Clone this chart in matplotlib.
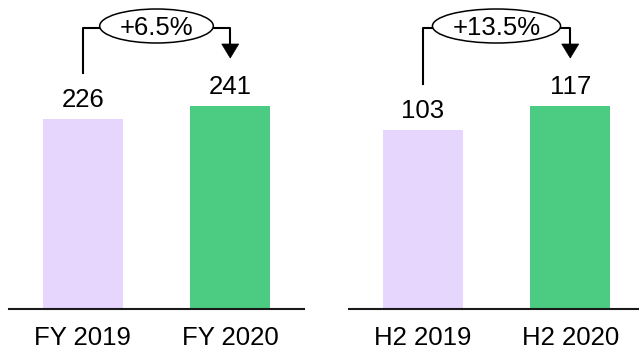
import matplotlib
matplotlib.use("Agg")
import matplotlib.pyplot as plt
from matplotlib.lines import Line2D
from matplotlib.patches import Ellipse, Polygon
from matplotlib.transforms import IdentityTransform

plt.rcParams["font.family"] = ["Liberation Sans", "DejaVu Sans"]

# full year and second half figures
fy_labels = ["FY 2019", "FY 2020"]
fy_values = [226, 241]
fy_change = "+6.5%"

h2_labels = ["H2 2019", "H2 2020"]
h2_values = [103, 117]
h2_change = "+13.5%"

colors = ["#E6D5FD", "#4BCC82"]

W, H = 639, 349
fig = plt.figure(figsize=(W / 100, H / 100), dpi=100)
renderer = fig.canvas.get_renderer()
px = IdentityTransform()


def bar_panel(left, labels, values):
    ax = fig.add_axes([left / W, 40 / H, 295 / W, 309 / H])
    ax.bar([0, 1], values, width=0.54, color=colors)
    ax.set_xlim(-0.5, 1.5)
    # tallest bar takes the same height in both panels
    ax.set_ylim(0, max(values) * 309 / 203)
    for side in ["top", "right", "left"]:
        ax.spines[side].set_visible(False)
    ax.spines["bottom"].set_linewidth(1.5)
    ax.spines["bottom"].set_color("#1a1a1a")
    ax.set_yticks([])
    ax.set_xticks([0, 1])
    ax.set_xticklabels(labels, fontsize=18.5)
    ax.tick_params(axis="x", length=0, pad=12.5)
    for i, v in enumerate(values):
        ax.annotate(str(v), (i, v), xytext=(0, 8.6), textcoords="offset points",
                    ha="center", va="baseline", fontsize=18.5)
    return ax


def change_bracket(ax, values, label):
    x0, y0 = ax.transData.transform((0, values[0]))
    x1, y1 = ax.transData.transform((1, values[1]))
    y_line = H - 28
    y_tip = y1 + 48
    head = 14
    fig.add_artist(Line2D([x0, x0, x1, x1], [y0 + 46, y_line, y_line, y_tip + head],
                          transform=px, lw=1.5, color="black", zorder=2))
    fig.add_artist(Polygon([(x1 - 8.5, y_tip + head), (x1 + 8.5, y_tip + head), (x1, y_tip)],
                           closed=True, transform=px, fc="black", ec="black", lw=0.5, zorder=2))
    cx, cy = (x0 + x1) / 2, H - 26
    t = fig.text(cx, cy - 9, label, transform=px, ha="center", va="baseline",
                 fontsize=18.5, zorder=4)
    tw = t.get_window_extent(renderer).width
    fig.add_artist(Ellipse((cx, cy), tw + 40, 34, transform=px, fc="white",
                           ec="black", lw=1.1, zorder=3))


ax1 = bar_panel(9, fy_labels, fy_values)
ax2 = bar_panel(349, h2_labels, h2_values)
change_bracket(ax1, fy_values, fy_change)
change_bracket(ax2, h2_values, h2_change)

plt.savefig("out.png", dpi=100)
